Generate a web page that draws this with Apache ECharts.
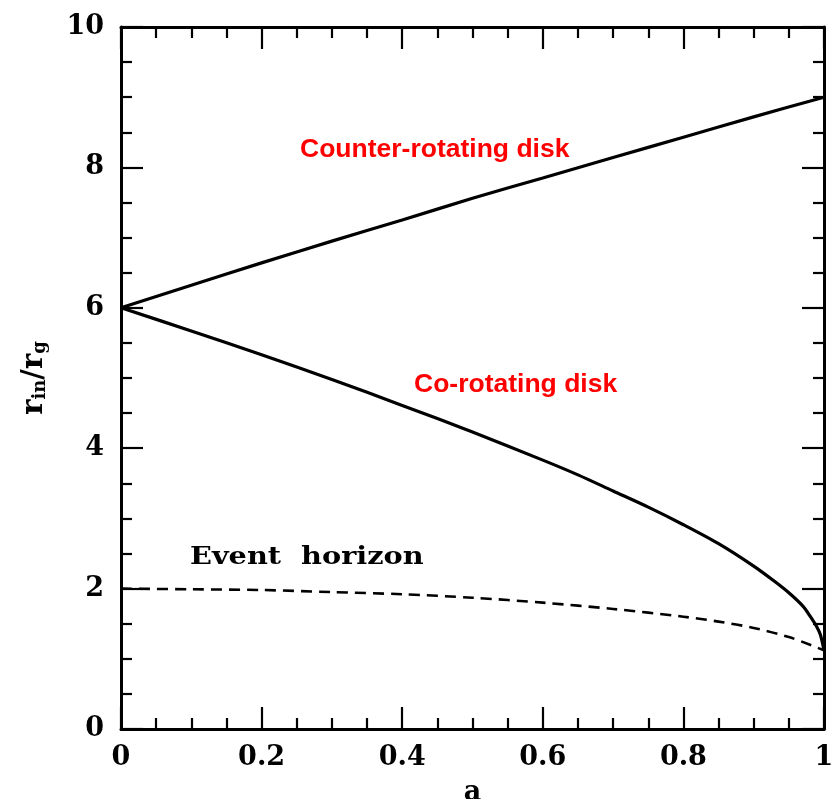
<!DOCTYPE html>
<html>
<head>
<meta charset="utf-8">
<script src="https://cdn.jsdelivr.net/npm/echarts@6/dist/echarts.min.js"></script>
<style>html,body{margin:0;padding:0;background:#fff}#c{width:833px;height:799px}</style>
</head>
<body>
<div id="c"></div>
<script>
// spin parameter a
const spinCounter = [0, 0.1, 0.2, 0.3, 0.4, 0.5, 0.6, 0.7, 0.8, 0.9, 1.0];
const rCounter    = [6.00, 6.32, 6.64, 6.95, 7.25, 7.56, 7.85, 8.14, 8.43, 8.72, 9.00];

const spinCo = [0, 0.1, 0.2, 0.3, 0.4, 0.5, 0.6, 0.65, 0.7, 0.75, 0.8, 0.85, 0.9, 0.93, 0.95, 0.97, 0.98, 0.99, 0.995, 1.0];
const rCo    = [6.00, 5.67, 5.33, 4.98, 4.61, 4.23, 3.83, 3.62, 3.39, 3.16, 2.91, 2.64, 2.32, 2.10, 1.94, 1.75, 1.61, 1.45, 1.34, 1.12];

const spinHorizon = [0, 0.1, 0.2, 0.3, 0.4, 0.5, 0.6, 0.7, 0.8, 0.85, 0.9, 0.95, 0.98, 1.0];
const rHorizon    = [2.00, 1.99, 1.98, 1.95, 1.92, 1.87, 1.80, 1.71, 1.60, 1.53, 1.44, 1.31, 1.20, 1.12];

const xTicks = [0, 0.2, 0.4, 0.6, 0.8, 1];
const yTicks = [0, 2, 4, 6, 8, 10];

const zip = (xs, ys) => xs.map((x, i) => [x, ys[i]]);

const serif = '"DejaVu Serif", "Liberation Serif", serif';
const tickStyle = {show: true, inside: true, length: 22, lineStyle: {color: '#000', width: 2.2}};
const minorStyle = {show: true, splitNumber: 4, length: 11, lineStyle: {color: '#000', width: 2.2}};
const lineStyleAxis = {show: true, onZero: false, lineStyle: {color: '#000', width: 3}};

const chart = echarts.init(document.getElementById('c'));
chart.setOption({
  animation: false,
  backgroundColor: '#fff',
  grid: {left: 121, right: 9, top: 27, bottom: 70, outerBoundsMode: 'none', containLabel: false},
  xAxis: [{
    type: 'value', min: 0, max: 1, interval: 0.2, position: 'bottom',
    axisLine: lineStyleAxis, axisTick: tickStyle, minorTick: minorStyle,
    splitLine: {show: false},
    axisLabel: {
      color: '#000', fontFamily: serif, fontWeight: 'bold', fontSize: 27, margin: 15,
      formatter: v => { const t = xTicks.find(k => Math.abs(k - v) < 1e-9); return t === undefined ? '' : String(t); }
    },
    name: 'a', nameLocation: 'middle', nameGap: 50,
    nameTextStyle: {color: '#000', fontFamily: serif, fontWeight: 'bold', fontSize: 27}
  }, {
    type: 'value', min: 0, max: 1, interval: 0.2, position: 'top',
    axisLine: lineStyleAxis, axisTick: tickStyle, minorTick: minorStyle,
    splitLine: {show: false}, axisLabel: {show: false}
  }],
  yAxis: [{
    type: 'value', min: 0, max: 10, interval: 2, position: 'left',
    axisLine: lineStyleAxis, axisTick: tickStyle, minorTick: minorStyle,
    splitLine: {show: false},
    axisLabel: {
      color: '#000', fontFamily: serif, fontWeight: 'bold', fontSize: 27, margin: 17,
      formatter: v => { const t = yTicks.find(k => Math.abs(k - v) < 1e-9); return t === undefined ? '' : String(t); }
    },
    name: '{r|r}{s|in}{r|/r}{s|g}', nameLocation: 'middle', nameGap: 72, nameRotate: 90,
    nameTextStyle: {
      color: '#000',
      rich: {
        r: {fontFamily: serif, fontWeight: 'bold', fontSize: 29, color: '#000'},
        s: {fontFamily: serif, fontWeight: 'bold', fontSize: 18, color: '#000', verticalAlign: 'bottom', padding: [12, 0, 0, 0]}
      }
    }
  }, {
    type: 'value', min: 0, max: 10, interval: 2, position: 'right',
    axisLine: lineStyleAxis, axisTick: tickStyle, minorTick: minorStyle,
    splitLine: {show: false}, axisLabel: {show: false}
  }],
  graphic: [
    {type: 'text', left: 300, top: 136, style: {text: 'Counter-rotating disk', fill: '#ff0000', font: 'bold 26.5px "Liberation Sans", Arial, sans-serif'}},
    {type: 'text', left: 414, top: 371, style: {text: 'Co-rotating disk', fill: '#ff0000', font: 'bold 26.5px "Liberation Sans", Arial, sans-serif'}},
    {type: 'text', x: 190, y: 545, scaleX: 1.15, style: {text: 'Event  horizon', fill: '#000', font: 'bold 25px "DejaVu Serif", serif'}}
  ],
  series: [
    {type: 'line', name: 'Counter-rotating', data: zip(spinCounter, rCounter), showSymbol: false, smooth: 0.3,
     lineStyle: {color: '#000', width: 3.2}},
    {type: 'line', name: 'Co-rotating', data: zip(spinCo, rCo), showSymbol: false, smooth: 0.3,
     lineStyle: {color: '#000', width: 3.2}},
    {type: 'line', name: 'Event horizon', data: zip(spinHorizon, rHorizon), showSymbol: false, smooth: 0.3,
     lineStyle: {color: '#000', width: 2.6, type: [11, 7]}}
  ]
});
</script>
</body>
</html>
